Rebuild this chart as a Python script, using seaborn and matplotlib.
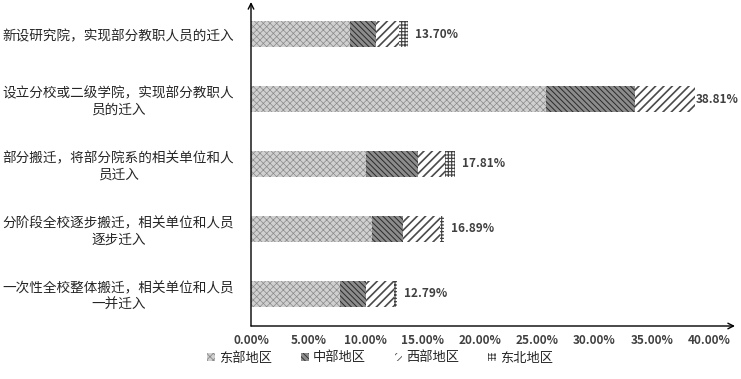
import numpy as np
import pandas as pd
import matplotlib
matplotlib.use("Agg")
import matplotlib.pyplot as plt
import seaborn as sns

categories = [
    "新设研究院，实现部分教职人员的迁入",
    "设立分校或二级学院，实现部分教职人\n员的迁入",
    "部分搬迁，将部分院系的相关单位和人\n员迁入",
    "分阶段全校逐步搬迁，相关单位和人员\n逐步迁入",
    "一次性全校整体搬迁，相关单位和人员\n一并迁入",
]
regions = ["东部地区", "中部地区", "西部地区", "东北地区"]
east = [8.65, 25.75, 10.05, 10.55, 7.80]
central = [2.27, 7.75, 4.55, 2.75, 2.25]
west = [2.00, 5.25, 2.30, 3.20, 2.45]
northeast = [0.78, 0.06, 0.91, 0.39, 0.29]
totals = [13.70, 38.81, 17.81, 16.89, 12.79]

sns.set_style("white")
plt.rcParams["font.family"] = ["Noto Sans CJK SC", "DejaVu Sans"]

df = pd.DataFrame({"cat": categories, "东部地区": east, "中部地区": central,
                   "西部地区": west, "东北地区": northeast})
cum = df[regions].cumsum(axis=1)

styles = {
    "东部地区": dict(fc="#d0d0d0", ec="#8a8a8a", hatch="xxxxx", hlw=0.5),
    "中部地区": dict(fc="#8c8c8c", ec="#2a2a2a", hatch="\\\\\\\\\\\\", hlw=0.7),
    "西部地区": dict(fc="white", ec="#4a4a4a", hatch="////", hlw=1.2),
    "东北地区": dict(fc="white", ec="#404040", hatch="+++++", hlw=0.8),
}

fig = plt.figure(figsize=(7.41, 3.79), dpi=100)
ax = fig.add_axes([251 / 741, 53 / 379, (735 - 251) / 741, (326 - 2) / 379])

handles = []
for reg in reversed(regions):
    st = styles[reg]
    plt.rcParams["hatch.linewidth"] = st["hlw"]
    n_before = len(ax.patches)
    sns.barplot(x=cum[reg], y=df["cat"], orient="h", ax=ax, width=0.4,
                color=st["fc"], saturation=1)
    for p in ax.patches[n_before:]:
        p.set_facecolor(st["fc"])
        p.set_edgecolor(st["ec"])
        p.set_hatch(st["hatch"])
        p.set_linewidth(0)
    handles.insert(0, plt.Rectangle((0, 0), 1, 1, fc=st["fc"], ec=st["ec"],
                                    hatch=st["hatch"], lw=0))

for i, t in enumerate(totals):
    x = min(t + 0.6, 38.85)
    ax.text(x, i, f"{t:.2f}%", va="center", ha="left", fontsize=8.5,
            fontweight="bold", color="#404040")

ax.set_xlim(0, 42.27)
ax.set_ylim(4.5, -0.5)
ax.set_xticks(np.arange(0, 41, 5))
ax.set_xticklabels([f"{v:.2f}%" for v in np.arange(0, 41, 5)], fontsize=8.5,
                   fontweight="bold", color="#404040")
ax.set_xlabel("")
ax.set_ylabel("")
for lab in ax.get_yticklabels():
    lab.set_multialignment("center")
    lab.set_fontsize(9.8)
    lab.set_color("#262626")
ax.tick_params(axis="y", length=0, pad=12)
ax.tick_params(axis="x", direction="in", length=5, width=0.8, color="#404040", pad=6)

for s in ["top", "right", "bottom", "left"]:
    ax.spines[s].set_visible(False)
ax.annotate("", xy=(1, 0), xytext=(0, 0), xycoords="axes fraction",
            arrowprops=dict(arrowstyle="->", lw=1.0, color="black", shrinkA=0, shrinkB=0))
ax.annotate("", xy=(0, 1), xytext=(0, 0), xycoords="axes fraction",
            arrowprops=dict(arrowstyle="->", lw=1.0, color="black", shrinkA=0, shrinkB=0))

plt.rcParams["hatch.linewidth"] = 0.6
fig.legend(handles, regions, loc="center", bbox_to_anchor=(380 / 741, 1 - 358 / 379),
           ncol=4, frameon=False, fontsize=9.5, handlelength=0.6, handleheight=0.6,
           columnspacing=2.2, handletextpad=0.3)

fig.savefig("out.png", dpi=100)
